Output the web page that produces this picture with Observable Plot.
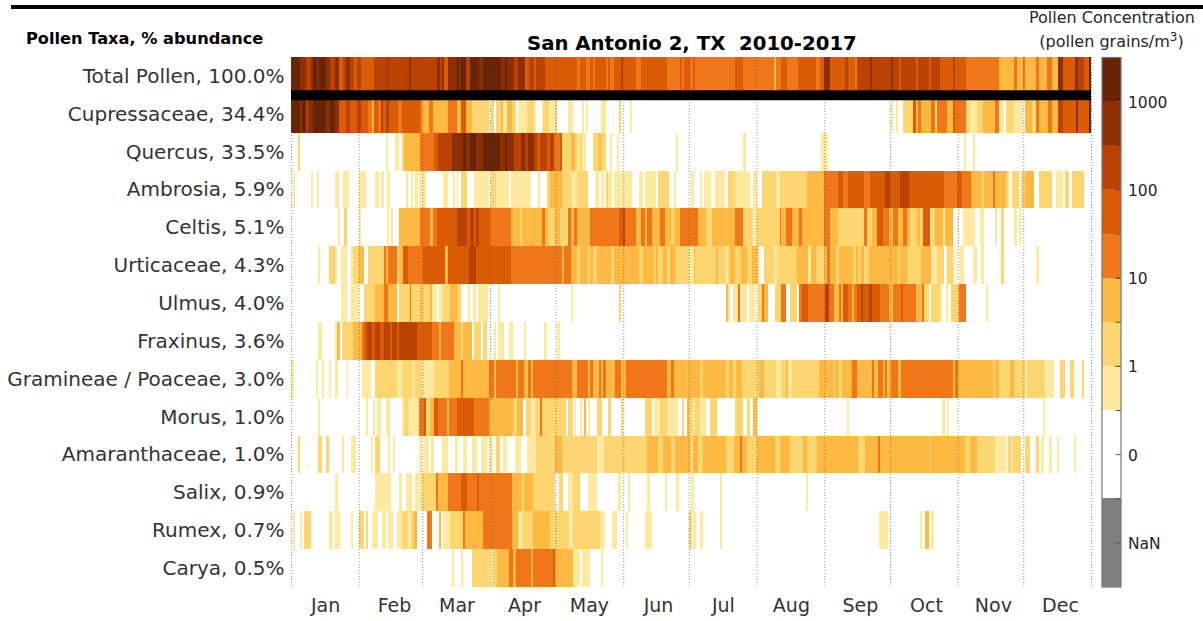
<!DOCTYPE html>
<html><head><meta charset="utf-8">
<script src="https://cdn.jsdelivr.net/npm/d3@7"></script>
<script src="https://cdn.jsdelivr.net/npm/@observablehq/plot@0.6"></script>
<style>
html,body{margin:0;padding:0;background:#fff;overflow:hidden}
#wrap{position:relative;width:1203px;height:621px;font-family:"DejaVu Sans",sans-serif}
#wrap svg{position:absolute;top:0;background:transparent}
.h{position:absolute;white-space:pre;line-height:1}
</style></head><body><div id="wrap">
<div class="h" style="left:11px;top:5px;width:1192px;height:4px;background:#000"></div>
<div class="h" id="taxaHead" style="left:26px;top:31px;font-size:16.2px;font-weight:bold;color:#000">Pollen Taxa, % abundance</div>
<div class="h" id="mainTitle" style="left:527px;top:34px;font-size:19.7px;font-weight:bold;color:#000">San Antonio 2, TX  2010-2017</div>
<div class="h" id="legTitle" style="left:1012px;width:200px;top:10px;font-size:16px;color:#262626;text-align:center">Pollen Concentration</div>
<div class="h" id="legUnit" style="left:1011.5px;width:200px;top:34px;font-size:16px;color:#262626;text-align:center">(pollen grains/m<sup style="font-size:12px;line-height:0">3</sup>)</div>
</div>
<script>
// Each list: [first day of the run (0 = 1 Jan), concentration level 0-8]
const totalPollen=[[0,8],[4,7],[5,7],[7,6],[9,7],[10,8],[12,7],[13,8],[16,7],[18,6],[20,7],[22,5],[24,6],[25,7],[27,6],[29,5],[30,6],[32,5],[38,6],[44,7],[44.5,6],[54,7],[55,6],[67,7],[68,6],[69,7],[70,5],[72,7],[76,8],[77,7],[78,8],[80,6],[82,8],[86,7],[88,8],[96,7],[98,8],[99,7],[102,6],[104,7],[107,5],[109,6],[111,5],[112,6],[116,5],[131,4],[132,5],[135,4],[137,5],[138,4],[139,5],[144,4],[145,5],[146,4],[148,5],[151,6],[152,5],[158,4],[160,5],[172,4],[178,5],[179,4],[180,5],[182.5,4],[184,5],[185,4],[203,5],[207,4],[221,3],[222,4],[224,5],[227,4],[232,5],[240,4],[242,5],[244,7],[246.5,5],[253.5,6],[255,5],[258,4],[259,6],[265,7],[266,6],[274.5,7],[275.6,6],[278,5],[279,6],[286,5],[287,6],[292,5],[293,6],[297,5],[303,6],[304,5],[308.7,4],[324,3],[331,4],[332,3],[335,4],[336,3],[341,4],[342,3],[346,4],[348,3],[351,7],[353,5],[358.7,7],[360,6],[363,5],[365,8]];
const cupressaceae=[[0,8],[4,7],[5,8],[7,6],[8,7],[10,8],[16,7],[18,8],[20,7],[22,5],[25,6],[27,5],[30,6],[32,5],[35,4],[37,3],[38,5],[40,4],[41,6],[42,5],[43.5,6],[45,5],[49,4],[51,5],[59,4],[60,3],[63,4],[65,3],[72,4],[76,3],[78,5],[80,3],[83,2],[90.6,0],[91.5,2],[93,0],[94,2],[96,3],[97,1],[99,3],[101,2],[103,0],[104,1],[108,2],[111,1],[112,0],[115,1],[115.5,2],[118,1],[121,2],[121.5,0],[126.7,1],[129,0],[133,1],[134,0],[135,1],[136,0],[142,1],[144,0],[150,2],[151,0],[155,1],[156,0],[274.5,1],[275.6,0],[276.6,1],[277.7,0],[280,2],[284.7,5],[286,3],[287,4],[288,3],[293,4],[294.6,2],[295.7,4],[300,3],[302.7,5],[303.8,3],[304,4],[308.7,2],[310.6,1],[313.7,2],[316.8,3],[322,4],[324,1],[326,0],[327,2],[331,1],[335,0],[336,3],[339,2],[341,4],[342,3],[346.5,4],[348,3],[351,6],[353,5],[359,7],[360,5],[365,8]];
const quercus=[[3,2],[4,0],[43.5,1],[44.3,0],[47.6,1],[49.4,0],[50.6,2],[51.7,3],[59,4],[65.4,5],[67.4,6],[73.5,7],[78.5,8],[80,7],[82,8],[84.5,7],[87.7,8],[95.6,7],[98,8],[99,7],[102,6],[105,7],[107,6],[108.6,7],[111,6],[112.7,5],[114,6],[117,5],[118.5,6],[120.5,4],[123,5],[124,2],[128,3],[130,2],[131,1],[132,2],[133,1],[135,0],[138,2],[141,3],[142,2],[144,0],[146,1],[147,0],[149,1],[150,0],[176,1],[177,0],[207,1],[208,0],[242.4,1],[245.5,0],[308,1],[309,0],[312,1],[313,0]];
const ambrosia=[[1,1],[2,0],[9,1],[10,0],[12,1],[13,0],[20,1],[22,0],[24,1],[26.5,0],[31,1],[34.3,0],[38.5,1],[40.4,0],[41,1],[42.4,0],[44,1],[45.4,0],[52.5,1],[53.7,0],[55,1],[56,0],[56.7,1],[58,0],[58.7,1],[61.8,0],[69.7,1],[71.7,0],[74,1],[75,0],[75.8,1],[76.5,0],[77.8,2],[80.4,0],[83.9,1],[90.6,0],[91.5,2],[93.6,1],[99.7,0],[100.6,1],[110,0],[112.8,1],[114,0],[117,2],[118.5,3],[121,3],[124,0],[124.1,2],[128,1],[131,2],[135.7,0],[139,1],[141,0],[142,1],[143,0],[144,2],[145,1],[147,0],[148,1],[156,0],[159,1],[161,0],[162,1],[167,0],[168,2],[173,0],[175,1],[176,0],[183,1],[184.5,0],[187,1],[188,0],[189,1],[192,0],[194,1],[198.5,0],[200,2],[203,1],[210,0],[211.5,1],[213,0],[215.4,2],[222,1],[223.7,2],[236,3],[244,4],[250.4,5],[252.7,4],[255,5],[262,4],[265,5],[271.8,6],[274,5],[278.6,6],[282.7,5],[298.8,4],[304.6,5],[307,4],[311,3],[316,2],[317,3],[321,4],[322,3],[327,2],[328,1],[329,0],[330,2],[333,0],[334,2],[336,3],[340,0],[342.2,2],[348,0],[350,1],[353,0],[354,2],[356,0],[357.3,2],[363,0]];
const celtis=[[21.4,1],[22.4,0],[24.4,2],[25.5,0],[31,1],[32,0],[43.8,1],[44.8,0],[45.8,1],[46.7,0],[49.4,3],[59,4],[63.6,3],[65,4],[66.6,5],[75.8,6],[80.7,5],[82,6],[83.7,5],[84.5,6],[86,5],[91,4],[100.5,3],[104.8,2],[105.8,3],[114.7,4],[116,3],[117.7,2],[121,3],[123,2],[126.8,4],[128,3],[129.7,4],[131,3],[136.7,4],[150,5],[152,6],[153,4],[157.8,3],[160,4],[162,3],[163,4],[165,3],[169,4],[171,3],[174,2],[175,3],[178,4],[186,3],[190,2],[192.4,3],[203,4],[207,2],[211.5,0],[212,1],[213,2],[223.7,4],[224.4,3],[226.4,4],[229.4,3],[232.5,4],[234,3],[244,4],[246.5,3],[250.4,2],[262,4],[263.7,2],[265.7,3],[268.3,5],[270.7,4],[273.6,3],[275.6,4],[277.7,3],[280,4],[282,3],[283,2],[286.6,3],[287.8,2],[289,5],[292.3,1],[293,2],[294.6,3],[298.4,1],[299.2,3],[302.7,0],[305,1],[305.8,0],[307.6,1],[312.8,0],[315,1],[317,0],[322,1],[323,0],[325,2],[326,0],[331,1],[332,0],[333,1],[334,0]];
const urticaceae=[[12.2,1],[13.3,0],[17.4,2],[20,1],[21.2,0],[23,1],[25.5,0],[27.3,1],[28.5,2],[31,3],[33.4,0],[35,2],[42.4,4],[43.5,3],[44.5,4],[48.5,2],[49.4,3],[51.2,5],[53.4,4],[60.5,5],[64.7,5],[70.5,3],[72,5],[81.4,6],[84.5,5],[100.5,4],[124,3],[125,4],[128,3],[131,2],[132,3],[136,2],[137,3],[138,2],[139.8,3],[146.6,2],[148,3],[159,2],[161,3],[166,2],[167,3],[168,2],[170,3],[171.8,2],[173.3,3],[175.6,2],[182,1],[184.5,3],[185,2],[194.4,3],[195.4,2],[199,1],[200,2],[201,3],[203,2],[206,3],[208.4,2],[210.7,3],[213,2],[214,0],[216.3,2],[221,1],[222.4,2],[231.3,3],[236.3,1],[237.7,3],[240.4,2],[244,3],[245.3,4],[246.5,3],[249.3,2],[250.6,3],[257.3,2],[258.5,3],[259.6,2],[260.6,3],[262,2],[264.6,3],[277.7,2],[278.6,3],[282,2],[288,3],[292.8,1],[295.7,2],[298.8,0],[300,2],[303,1],[304,0],[305.8,1],[308,0],[312,1],[314,0],[315.7,1],[317,0],[325,2],[326,0],[341,1],[342.2,0]];
const ulmus=[[23,1],[25.5,0],[27.3,1],[31,0],[33.5,2],[38.4,3],[42.7,4],[44.5,3],[48.3,0],[49.4,2],[54.4,4],[55,2],[59,3],[60,2],[63.4,3],[64.4,1],[66.6,0],[67.8,1],[69.7,2],[72.7,3],[76,2],[77.7,0],[81,1],[82,0],[83.4,1],[84.5,0],[85.7,1],[90.3,0],[94.9,1],[95.8,0],[128,1],[129,0],[150,2],[151,0],[198.8,3],[199.7,1],[201,0],[202.3,1],[204.3,4],[205.4,1],[208.4,0],[209.5,1],[212.2,0],[213.7,2],[215.3,4],[216.3,3],[218.3,0],[221.4,2],[224,4],[226.4,0],[228.2,2],[231.3,0],[232.3,4],[234,5],[236.3,4],[244.2,6],[246.2,4],[248.4,3],[250.5,4],[251.6,3],[252.5,5],[255,4],[256.7,3],[257.7,4],[258.8,5],[260.6,6],[261.8,5],[264.6,6],[265.7,5],[269.5,4],[273.7,3],[275.6,4],[279,5],[279.8,4],[286,3],[288.5,4],[289.8,2],[291.7,0],[292.8,2],[297,1],[298,0],[299.7,1],[300.7,0],[301.8,2],[305.8,4],[308.8,0],[318,1],[319,0]];
const fraxinus=[[12.2,1],[14.3,0],[20,1],[21.2,3],[22.4,0],[23.2,2],[28.5,3],[32.6,4],[33.5,5],[34.6,6],[37.2,5],[38.4,6],[40.7,5],[42.5,6],[45.3,5],[46.4,6],[48.3,5],[49.4,6],[57.5,5],[64.4,4],[67.7,3],[68.6,4],[74.6,3],[77.6,2],[78.5,3],[83,0],[83.9,2],[86.8,0],[87.8,2],[89.8,0],[92.9,1],[93.6,0],[94.9,1],[97.6,0],[99.7,1],[101.7,0],[106.7,1],[107.7,0],[115.9,1],[117,0],[121.5,1],[123,0]];
const gramineae=[[0,1],[1.4,0],[11.3,1],[12.2,0],[14.3,1],[15.3,0],[17.4,1],[18.3,0],[20,1],[21.4,0],[25.5,1],[26.2,0],[32.6,1],[36.6,0],[38.4,2],[48.5,1],[50.6,2],[55.5,1],[56.7,2],[60,1],[65.4,2],[72.3,3],[77.6,4],[78.5,3],[90.7,4],[92.9,3],[93.6,4],[102.8,3],[103.7,4],[106.8,3],[108.6,4],[109.8,3],[110.9,4],[128.6,3],[131,4],[136,3],[137,4],[138,3],[140.8,4],[142,3],[142.8,4],[143.9,3],[148.2,4],[151,3],[153.2,4],[172,3],[174,4],[175,3],[187,2],[188.3,3],[198.8,2],[200.3,3],[202.3,2],[203.4,3],[206.4,2],[214,3],[216.3,2],[222,1],[224,2],[226.4,3],[227.5,1],[229.4,2],[241.5,3],[248,2],[249,3],[250.6,2],[252,3],[256.7,4],[258.8,3],[265.7,4],[266.7,3],[268.7,4],[270.7,3],[271.8,4],[272.8,3],[274.5,4],[277.7,3],[279,4],[303,3],[304,4],[305,3],[321,2],[322,3],[324,2],[329,3],[331,2],[336,1],[336.6,2],[345,1],[349,0],[352,2],[354,0],[356.4,2],[358,0],[362,2],[363,0]];
const morus=[[12.2,1],[13.3,0],[34.3,1],[35.4,0],[37.4,1],[38.4,0],[39.5,1],[41,0],[43.5,1],[45.4,0],[50.6,1],[51.5,2],[53.4,1],[58.7,4],[60.8,5],[61.8,2],[63.6,3],[65.4,5],[67.4,4],[71.5,3],[72.4,4],[75.8,5],[83.7,4],[90.7,3],[101.7,2],[103.2,3],[106,0],[107.4,2],[109.6,1],[112,2],[113.9,4],[115,2],[125.6,0],[126.7,2],[129,0],[130,1],[130.6,0],[132,1],[133,0],[134,3],[135,0],[135.8,1],[137,0],[139.8,2],[142.5,0],[145,2],[146.6,0],[151,2],[152,0],[162,2],[165,0],[166,1],[169,2],[171.8,1],[177,0],[179,2],[180,0],[181,3],[182,2],[184,1],[185,2],[187,1],[190,0],[191.6,2],[195,0],[203,2],[207,0],[208.4,2],[210,0],[211.4,3],[213,0],[254.5,1],[255.4,0],[298,1],[299,0],[300,1],[301,0],[344,1],[345,0]];
const amaranthaceae=[[3,2],[4,0],[12.5,2],[14.3,0],[16,2],[17.4,0],[23.2,1],[24.2,0],[27.3,1],[29.6,0],[36.4,1],[37.4,0],[38.4,2],[40.7,0],[44.5,1],[45.4,0],[46.5,1],[47.6,0],[58.7,1],[60,0],[61,1],[63,0],[64,1],[65.4,0],[69,1],[72,0],[75,1],[76.5,0],[78.5,1],[80.4,0],[83,1],[85,0],[87,1],[89.5,0],[90.6,1],[92.6,0],[93.6,2],[95.6,0],[97,1],[99,0],[102.5,1],[105,0],[108,1],[112,2],[121,3],[124,2],[140,1],[143,2],[163,3],[168,2],[170,3],[174,2],[175.7,3],[182.6,2],[184,3],[186,2],[188.7,3],[199,2],[202.7,3],[205.5,4],[206.4,3],[208.8,2],[213,3],[221.5,2],[223.8,3],[228.3,2],[234.4,3],[236,2],[240.6,3],[259.6,2],[262.7,3],[268.5,4],[269.5,3],[292.4,2],[293,3],[308.4,2],[310.7,3],[313.8,2],[322,1],[327.5,0],[328,2],[329.5,0],[330,2],[334,0],[336,2],[338,0],[341,2],[342.4,0],[343,1],[344.3,0],[347,1],[348,0],[350.4,1],[351.4,0],[358.3,1],[359.2,0]];
const salix=[[20,1],[21.4,0],[38.4,1],[45.8,0],[49.6,1],[50.6,0],[52.5,1],[55.2,0],[56.7,1],[59.8,2],[66.3,4],[67.4,3],[71.7,4],[77.6,5],[80.7,4],[85,5],[86,4],[101,3],[105.6,2],[106.8,3],[110.9,2],[121,0],[122.6,2],[124.6,0],[126.9,1],[129.2,2],[132.2,0],[135.7,1],[139.8,0],[149.8,1],[150.9,0],[154,1],[155,0],[163,1],[164.3,0],[171,1],[172.2,0],[176,1],[177.3,0],[183,1],[184.4,0],[196.3,1],[197.4,0],[235.5,1],[236.7,0]];
const rumex=[[1,1],[2,0],[4,1],[5,0],[6,2],[9,0],[17.4,1],[19.4,0],[20,1],[22.4,0],[27.3,1],[28.4,0],[31,2],[33.5,0],[34.3,2],[35.4,0],[37.2,1],[40,0],[41.5,1],[43.5,0],[44.5,1],[46.5,0],[48.6,1],[50.6,2],[53.7,1],[55,2],[56.5,3],[57.8,0],[62.4,4],[64.7,0],[67.7,3],[68.6,0],[69.5,1],[72.7,2],[78.5,4],[79.6,3],[87.7,4],[101,3],[104,1],[105.5,2],[110.9,3],[118.5,2],[127,1],[129,2],[141.4,1],[143.7,0],[146.8,1],[149,0],[153.2,1],[154,0],[162,1],[165,0],[182.3,2],[183.4,0],[184,1],[185.3,0],[187.2,1],[188.4,0],[196.3,1],[197.4,0],[268.8,1],[273.3,0],[287.8,1],[288.7,0],[290,3],[291.8,0],[293,1],[294,0]];
const carya=[[73.5,1],[74.6,0],[77.6,1],[78.7,0],[83,2],[90.6,1],[92,2],[94.4,3],[99.7,4],[101.7,3],[102.8,4],[109.8,3],[110.9,4],[120,5],[121,3],[128.9,1],[132.2,0],[133.3,1],[136.8,0],[141.8,1],[142.9,0]];
const taxa=["Total Pollen, 100.0%","Cupressaceae, 34.4%","Quercus, 33.5%","Ambrosia, 5.9%","Celtis, 5.1%","Urticaceae, 4.3%","Ulmus, 4.0%","Fraxinus, 3.6%","Gramineae / Poaceae, 3.0%","Morus, 1.0%","Amaranthaceae, 1.0%","Salix, 0.9%","Rumex, 0.7%","Carya, 0.5%"];
const taxaRuns=[totalPollen,cupressaceae,quercus,ambrosia,celtis,urticaceae,ulmus,fraxinus,gramineae,morus,amaranthaceae,salix,rumex,carya];
const monthNames=["Jan","Feb","Mar","Apr","May","Jun","Jul","Aug","Sep","Oct","Nov","Dec"];
const monthStarts=[0,31,60,91,121,152,182,213,244,274,305,335,366];
const monthLabelDays=[15.6,47.1,75.7,106.6,136.3,167.9,197.6,228.7,260.3,290.5,321.1,351.8];
const levelColors=["#fee9a0","#fdd671","#feb943","#ef7619","#dc5b07","#ba4203","#8c2f04","#662506"];
const levels=[1,2,3,4,5,6,7,8];
const barLabels=["NaN","0","1","10","100","1000"];
const barTicks=[1,3,5,7,9,11];
const barEdges=[2,4,5,6,7,8,9,10,11];
const barBands=[[0,2,"#808080"],[2,4,"#ffffff"],[4,5,levelColors[0]],[5,6,levelColors[1]],[6,7,levelColors[2]],[7,8,levelColors[3]],[8,9,levelColors[4]],[9,10,levelColors[5]],[10,11,levelColors[6]],[11,12,levelColors[7]]];

const cells=taxaRuns.flatMap((runs,i)=>runs.map(([start,level],j)=>({
  taxon:taxa[i],start,end:j+1<runs.length?runs[j+1][0]:366,level
}))).filter(d=>d.level>0&&d.end>d.start);

const main=Plot.plot({
  width:1203,height:621,marginLeft:291,marginRight:112,marginTop:57,marginBottom:34,
  style:{fontFamily:'"DejaVu Sans",sans-serif',background:"transparent"},
  x:{domain:[0,366]},
  y:{domain:taxa,padding:0,type:"band",round:false},
  color:{type:"ordinal",domain:levels,range:levelColors},
  marks:[
    Plot.barX(cells,{x1:"start",x2:"end",y:"taxon",fill:"level",shapeRendering:"crispEdges"}),
    Plot.ruleX(monthStarts,{stroke:"#555",strokeWidth:1,strokeDasharray:"1,2",strokeOpacity:0.65}),
    Plot.ruleY([taxa[0]],{x1:0,x2:366,stroke:"#000",strokeWidth:10,dy:18.9}),
    Plot.axisY({anchor:"left",tickSize:0,tickPadding:7,fontSize:20,fill:"#333",label:null}),
    Plot.axisX(monthLabelDays,{anchor:"bottom",tickSize:0,tickPadding:11,fontSize:19,fill:"#333",label:null,
      tickFormat:(d)=>monthNames[monthLabelDays.indexOf(d)]})
  ]
});
main.style.left="0px";
document.getElementById("wrap").appendChild(main);

const bar=Plot.plot({
  width:112,height:621,marginLeft:10.5,marginRight:82.5,marginTop:57,marginBottom:34.5,
  style:{fontFamily:'"DejaVu Sans",sans-serif',background:"transparent",overflow:"visible"},
  x:{domain:[0,1],axis:null},
  y:{domain:[0,12]},
  marks:[
    Plot.rect(barBands,{x1:0,x2:1,y1:d=>d[0],y2:d=>d[1],fill:d=>d[2],shapeRendering:"crispEdges"}),
    Plot.ruleY(barTicks.concat(barEdges),{x1:0.74,x2:1,stroke:"#555",strokeWidth:1}),
    Plot.frame({stroke:"#777",strokeWidth:1.2}),
    Plot.axisY(barTicks,{anchor:"right",tickSize:0,tickPadding:7,fontSize:15.5,fill:"#262626",label:null,dy:1,
      tickFormat:(d)=>barLabels[barTicks.indexOf(d)]})
  ]
});
bar.style.left="1091px";
document.getElementById("wrap").appendChild(bar);
</script></body></html>
